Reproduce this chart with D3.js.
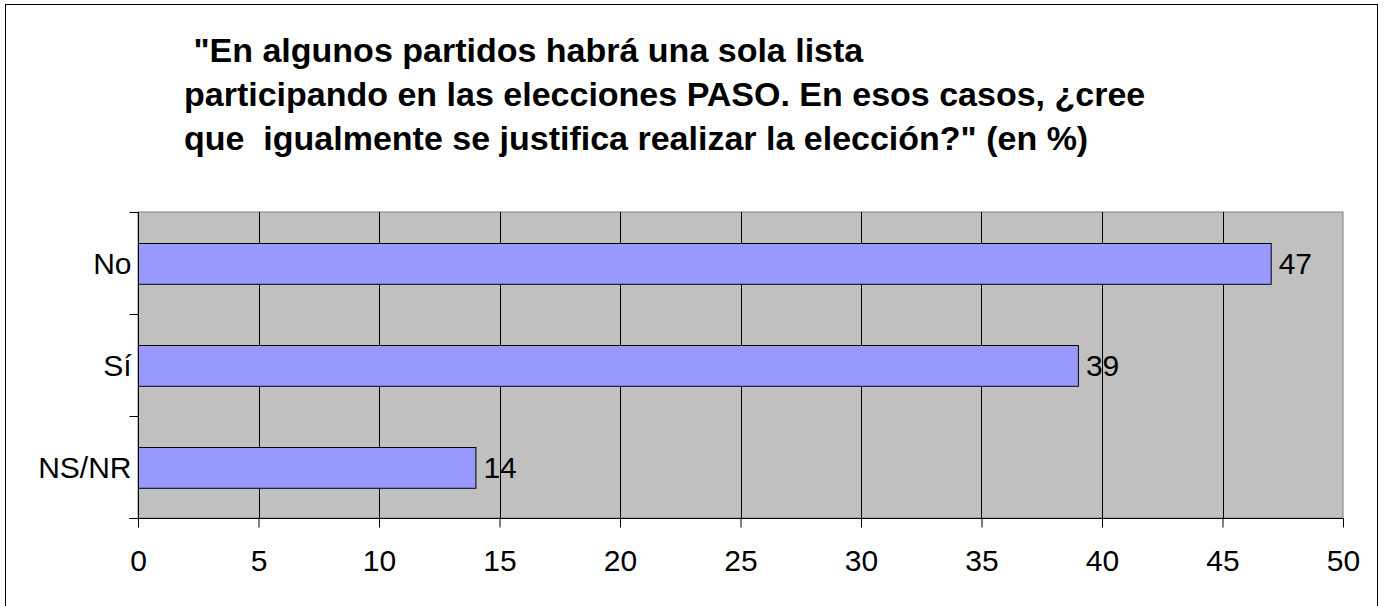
<!DOCTYPE html>
<html>
<head>
<meta charset="utf-8">
<script src="https://cdn.jsdelivr.net/npm/d3@7"></script>
<style>
  body { margin: 0; background: #fff; }
  text { font-family: "Liberation Sans", Arial, sans-serif; fill: #000; }
</style>
</head>
<body>
<div id="chart"></div>
<script>
const categories = ["No", "Sí", "NS/NR"];
const values = [47, 39, 14];
const xTicks = [0, 5, 10, 15, 20, 25, 30, 35, 40, 45, 50];
const titleLines = [
    " \"En algunos partidos habrá una sola lista",
    "participando en las elecciones PASO. En esos casos, ¿cree",
    "que  igualmente se justifica realizar la elección?\" (en %)"
];

const width = 1386, height = 606;
const plot = { left: 138, right: 1343, top: 212, bottom: 518 };

const svg = d3.select("#chart")
    .append("svg")
    .attr("width", width)
    .attr("height", height);

// outer frame
svg.append("rect")
    .attr("x", 5.5).attr("y", 4.5)
    .attr("width", 1372).attr("height", 610)
    .attr("fill", "#fff")
    .attr("stroke", "#000");

// title
svg.append("g")
    .selectAll("text")
    .data(titleLines)
    .join("text")
    .attr("x", 184)
    .attr("y", (d, i) => 62 + i * 44)
    .attr("font-size", "34px")
    .attr("font-weight", "bold")
    .style("white-space", "pre")
    .text(d => d);

// scales
const x = d3.scaleLinear()
    .domain([0, 50])
    .range([plot.left, plot.right]);

const y = d3.scaleBand()
    .domain(categories)
    .range([plot.top, plot.bottom])
    .paddingInner(0.6)
    .paddingOuter(0.3);

// plot area
svg.append("rect")
    .attr("x", plot.left).attr("y", plot.top)
    .attr("width", plot.right - plot.left)
    .attr("height", plot.bottom - plot.top)
    .attr("fill", "#c0c0c0")
    .attr("stroke", "#808080");

// gridlines
svg.append("g")
    .selectAll("line")
    .data(xTicks.slice(1, -1))
    .join("line")
    .attr("x1", d => Math.round(x(d)) + 0.5)
    .attr("x2", d => Math.round(x(d)) + 0.5)
    .attr("y1", plot.top)
    .attr("y2", plot.bottom)
    .attr("stroke", "#000");

// bars
svg.append("g")
    .selectAll("rect")
    .data(values)
    .join("rect")
    .attr("x", x(0) + 0.5)
    .attr("y", (d, i) => Math.round(y(categories[i])) + 0.5)
    .attr("width", d => x(d) - x(0))
    .attr("height", y.bandwidth())
    .attr("fill", "#9999ff")
    .attr("stroke", "#000");

// value labels
svg.append("g")
    .selectAll("text")
    .data(values)
    .join("text")
    .attr("x", d => x(d) + 8)
    .attr("y", (d, i) => y(categories[i]) + y.bandwidth() / 2)
    .attr("dy", "0.35em")
    .attr("font-size", "30px")
    .text(d => d);

// x axis
const xAxis = svg.append("g")
    .attr("transform", `translate(0,${plot.bottom + 0.5})`)
    .call(d3.axisBottom(x).tickValues(xTicks).tickSize(9).tickPadding(22));
xAxis.select(".domain").attr("stroke", "#000").attr("d", `M129,0H${plot.right + 0.5}`);
xAxis.selectAll(".tick line").attr("stroke", "#000");
xAxis.selectAll(".tick text").attr("font-size", "30px").attr("font-family", null);

// y axis
const yAxis = svg.append("g")
    .attr("transform", `translate(${plot.left + 0.5},0)`);
yAxis.append("line")
    .attr("x1", 0).attr("x2", 0)
    .attr("y1", plot.top).attr("y2", plot.bottom)
    .attr("stroke", "#000");
const step = y.step();
yAxis.selectAll("line.tick")
    .data(d3.range(categories.length + 1))
    .join("line")
    .attr("class", "tick")
    .attr("x1", -9).attr("x2", 0)
    .attr("y1", i => Math.round(plot.top + i * step) + 0.5)
    .attr("y2", i => Math.round(plot.top + i * step) + 0.5)
    .attr("stroke", "#000");
yAxis.selectAll("text")
    .data(categories)
    .join("text")
    .attr("x", -7)
    .attr("y", d => y(d) + y.bandwidth() / 2)
    .attr("dy", "0.35em")
    .attr("text-anchor", "end")
    .attr("font-size", "30px")
    .text(d => d);
</script>
</body>
</html>
